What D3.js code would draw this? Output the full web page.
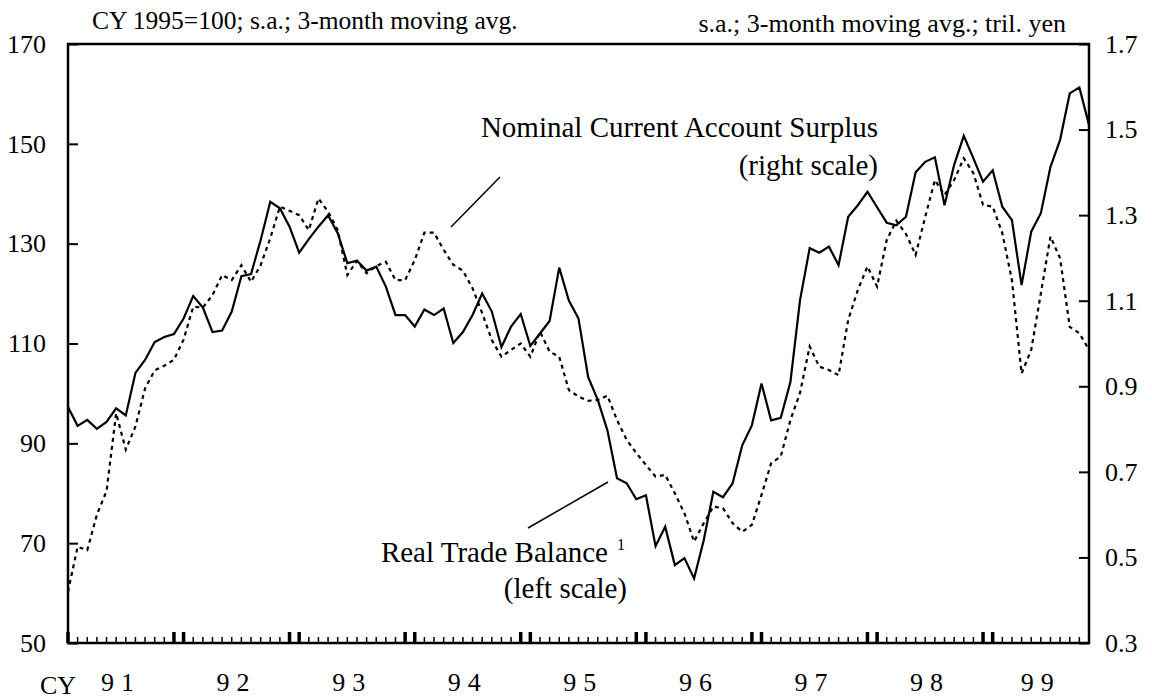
<!DOCTYPE html>
<html>
<head>
<meta charset="utf-8">
<style>
  body { margin: 0; background: #fff; }
  svg text { font-family: "Liberation Serif", "Times New Roman", serif; fill: #000; }
</style>
</head>
<body>
<div id="chart"></div>
<script src="https://d3js.org/d3.v7.min.js"></script>
<script>
// monthly, Jan 1991 .. Nov 1999
const years = ["91", "92", "93", "94", "95", "96", "97", "98", "99"];
const leftTicks = [50, 70, 90, 110, 130, 150, 170];
const rightTicks = [0.3, 0.5, 0.7, 0.9, 1.1, 1.3, 1.5, 1.7];

// Real Trade Balance (left scale, CY1995=100)
const tradeBalance = [
  97.3, 93.5, 94.7, 92.9, 94.3, 97.0, 95.6, 104.1, 106.7, 110.3, 111.3, 111.9,
  115.0, 119.5, 117.2, 112.3, 112.6, 116.4, 123.5, 123.9, 130.7, 138.4, 137.1, 133.4,
  128.2, 130.9, 133.4, 135.7, 132.1, 126.1, 126.6, 124.6, 125.4, 121.4, 115.7, 115.7,
  113.4, 116.8, 115.7, 117.0, 110.1, 112.3, 115.7, 120.0, 116.4, 109.3, 113.4, 115.9,
  109.5, 112.0, 114.5, 125.2, 118.6, 115.0, 103.3, 98.7, 92.6, 83.0, 82.0, 78.8,
  79.6, 69.4, 73.3, 65.6, 67.0, 62.9, 70.6, 80.3, 79.2, 82.0, 89.6, 93.6,
  102.0, 94.6, 95.1, 102.3, 118.7, 129.1, 128.2, 129.4, 125.7, 135.4, 137.7, 140.4,
  137.3, 134.2, 133.7, 135.4, 144.3, 146.4, 147.3, 137.7, 145.8, 151.6, 147.1, 142.4,
  144.7, 137.4, 134.7, 121.7, 132.4, 136.1, 145.4, 150.8, 160.1, 161.3, 153.8
];

// Nominal Current Account Surplus (right scale, tril. yen)
const currentAccount = [
  0.42, 0.525, 0.517, 0.60, 0.655, 0.837, 0.752, 0.806, 0.895, 0.937, 0.948, 0.962,
  1.009, 1.086, 1.084, 1.113, 1.160, 1.148, 1.183, 1.144, 1.183, 1.246, 1.320, 1.310,
  1.300, 1.265, 1.339, 1.308, 1.265, 1.160, 1.193, 1.164, 1.181, 1.191, 1.148, 1.148,
  1.195, 1.259, 1.259, 1.219, 1.184, 1.170, 1.129, 1.071, 1.008, 0.969, 0.985, 1.000,
  0.969, 1.028, 0.981, 0.969, 0.891, 0.876, 0.866, 0.868, 0.878, 0.821, 0.775, 0.744,
  0.716, 0.689, 0.693, 0.650, 0.603, 0.537, 0.580, 0.619, 0.615, 0.580, 0.560, 0.576,
  0.646, 0.720, 0.736, 0.821, 0.885, 0.993, 0.946, 0.938, 0.926, 1.055, 1.125, 1.180,
  1.133, 1.242, 1.287, 1.256, 1.207, 1.296, 1.382, 1.347, 1.382, 1.433, 1.398, 1.324,
  1.320, 1.258, 1.148, 0.930, 0.985, 1.117, 1.250, 1.199, 1.039, 1.024, 0.985
];

const width = 1152, height = 699;
const plotL = 68, plotR = 1089, plotT = 44, plotB = 643;
const nMonths = tradeBalance.length;

const svg = d3.select("#chart").append("svg")
  .attr("width", width)
  .attr("height", height);

const x = d3.scaleLinear().domain([0, nMonths - 1]).range([plotL, plotR]);
const yL = d3.scaleLinear().domain([50, 170]).range([plotB, plotT]);
const yR = d3.scaleLinear().domain([0.3, 1.7]).range([plotB, plotT]);

// headers
svg.append("text")
  .attr("x", 92).attr("y", 29)
  .style("font-size", "25.5px")
  .text("CY 1995=100; s.a.; 3-month moving avg.");
svg.append("text")
  .attr("x", 1066).attr("y", 32)
  .attr("text-anchor", "end")
  .style("font-size", "26px")
  .text("s.a.; 3-month moving avg.; tril. yen");

// left axis, ticks pointing inward
const axL = svg.append("g")
  .attr("transform", `translate(${plotL},0)`)
  .call(d3.axisLeft(yL).tickValues(leftTicks).tickSizeInner(-10).tickSizeOuter(0).tickPadding(22));
axL.select(".domain").remove();
axL.selectAll("line").attr("stroke", "#000").attr("stroke-width", 2);
axL.selectAll("text").style("font-size", "26px").style("font-family", "Liberation Serif");

const axR = svg.append("g")
  .attr("transform", `translate(${plotR},0)`)
  .call(d3.axisRight(yR).tickValues(rightTicks).tickFormat(d3.format(".1f")).tickSizeInner(-10).tickSizeOuter(0).tickPadding(16));
axR.select(".domain").remove();
axR.selectAll("line").attr("stroke", "#000").attr("stroke-width", 2);
axR.selectAll("text").style("font-size", "26px").style("font-family", "Liberation Serif");

// month ticks on the bottom, Dec and Jan drawn bold
const months = d3.range(nMonths);
svg.append("g").selectAll("line")
  .data(months)
  .enter().append("line")
  .attr("x1", d => x(d)).attr("x2", d => x(d))
  .attr("y1", plotB)
  .attr("y2", d => (d % 12 === 0 || d % 12 === 11) ? plotB - 11 : plotB - 6)
  .attr("stroke", "#000")
  .attr("stroke-width", d => (d % 12 === 0 || d % 12 === 11) ? 3.5 : 1.5);

// frame
svg.append("rect")
  .attr("x", plotL).attr("y", plotT)
  .attr("width", plotR - plotL).attr("height", plotB - plotT)
  .attr("fill", "none")
  .attr("stroke", "#000")
  .attr("stroke-width", 2.5);

// year labels
svg.append("g").selectAll("text")
  .data(years)
  .enter().append("text")
  .attr("x", (d, i) => x(Math.min(i * 12 + 5.5, (i * 12 + nMonths - 1) / 2)))
  .attr("y", 691)
  .attr("text-anchor", "middle")
  .style("font-size", "26px")
  .style("letter-spacing", "7px")
  .text(d => d);
svg.append("text")
  .attr("x", 40).attr("y", 694)
  .style("font-size", "26px")
  .text("CY");

// series
const lineL = d3.line().x((d, i) => x(i)).y(d => yL(d));
const lineR = d3.line().x((d, i) => x(i)).y(d => yR(d));

svg.append("path")
  .datum(currentAccount)
  .attr("d", lineR)
  .attr("fill", "none")
  .attr("stroke", "#000")
  .attr("stroke-width", 2.2)
  .attr("stroke-dasharray", "4,4");

svg.append("path")
  .datum(tradeBalance)
  .attr("d", lineL)
  .attr("fill", "none")
  .attr("stroke", "#000")
  .attr("stroke-width", 2.2)
  .attr("stroke-linejoin", "miter");

// annotations
svg.append("line")
  .attr("x1", 451).attr("y1", 227).attr("x2", 500).attr("y2", 177)
  .attr("stroke", "#000").attr("stroke-width", 1.5);
svg.append("text")
  .attr("x", 878).attr("y", 137)
  .attr("text-anchor", "end")
  .style("font-size", "29px")
  .text("Nominal Current Account Surplus");
svg.append("text")
  .attr("x", 878).attr("y", 175)
  .attr("text-anchor", "end")
  .style("font-size", "29px")
  .text("(right scale)");

svg.append("line")
  .attr("x1", 528).attr("y1", 528).attr("x2", 608).attr("y2", 482)
  .attr("stroke", "#000").attr("stroke-width", 1.5);
svg.append("text")
  .attr("x", 608).attr("y", 562)
  .attr("text-anchor", "end")
  .style("font-size", "29px")
  .text("Real Trade Balance");
svg.append("text")
  .attr("x", 617).attr("y", 550)
  .style("font-size", "16px")
  .text("1");
svg.append("text")
  .attr("x", 627).attr("y", 598)
  .attr("text-anchor", "end")
  .style("font-size", "29px")
  .text("(left scale)");
</script>
</body>
</html>
